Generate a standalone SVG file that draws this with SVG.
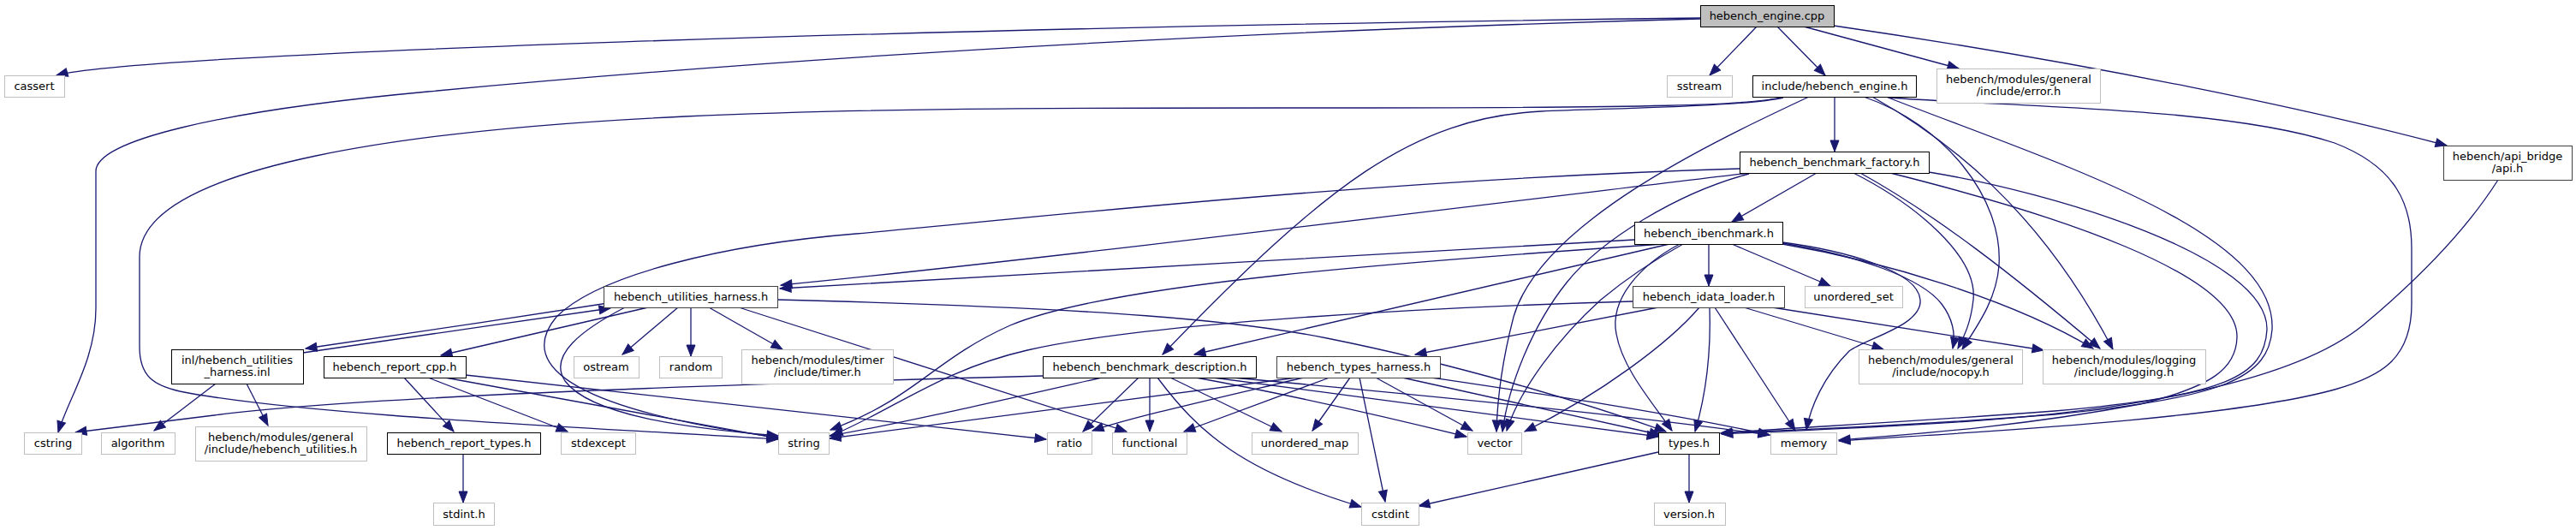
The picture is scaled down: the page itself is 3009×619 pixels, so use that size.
<svg xmlns="http://www.w3.org/2000/svg" width="3009" height="619" viewBox="0 0 3009 619">
<style>
rect{fill:#fff;stroke:#000;stroke-width:1}
.x rect{stroke:#bfbfbf}
.d rect{stroke:#404040}
.m rect{fill:#bfbfbf;stroke:#000}
text{font-family:"DejaVu Sans",sans-serif;font-size:13px;fill:#000;text-anchor:middle}
#edges path{fill:none;stroke:#191970;stroke-width:1.3;marker-end:url(#ah)}
</style>
<defs>
<marker id="ah" markerUnits="userSpaceOnUse" markerWidth="13" markerHeight="10" refX="13" refY="5" orient="auto" overflow="visible"><path d="M0,0L13,5L0,10z" fill="#191970" stroke="#191970" stroke-width="1"/></marker>
</defs>
<rect x="0" y="0" width="3009" height="619" style="fill:#fff;stroke:none"/>
<g id="edges">
<path d="M1986,21 C1100,32 160,62 66,88"/>
<path d="M1986,22 C1500,35 1000,60 500,107 C250,130 112,165 112,200 L112,360 C112,420 80,465 68,505"/>
<path d="M2052,31 L1997,88"/>
<path d="M2076,31 L2132,88"/>
<path d="M2107,31 L2288,80"/>
<path d="M2142,30 C2450,75 2700,128 2858,170"/>
<path d="M2083,113 C2050,123 1950,126 1500,126 C1200,126 1000,127 800,136 C500,150 163,190 163,300 L163,405 C163,440 180,450 210,457 C350,485 700,500 909,513"/>
<path d="M2083,114 C2040,124 1900,126 1800,130 C1650,138 1550,215 1358,414"/>
<path d="M2143,113 L2143,177"/>
<path d="M2113,113 C2000,166 1800,260 1768,370 C1755,420 1749,465 1748,504"/>
<path d="M2177,113 C2270,145 2340,230 2335,310 C2332,350 2310,380 2292,408"/>
<path d="M2187,113 C2270,160 2380,240 2468,408"/>
<path d="M2203,113 C2400,190 2660,270 2654,385 C2650,440 2600,465 2400,484 C2200,500 2080,502 2010,506"/>
<path d="M2207,114 C2350,125 2600,125 2727,167 C2800,195 2817,240 2817,290 L2817,355 C2817,420 2780,440 2727,455 C2600,490 2300,505 2148,515"/>
<path d="M2032,197 C1600,210 1200,255 1000,273 C850,285 700,320 650,370 C600,430 680,480 909,511"/>
<path d="M2043,202 C1700,243 1200,305 912,333"/>
<path d="M2122,202 L2023,259"/>
<path d="M2043,203 C1960,225 1870,280 1830,330 C1790,380 1762,450 1755,504"/>
<path d="M2165,202 C2240,240 2310,300 2305,350 C2302,378 2294,393 2287,407"/>
<path d="M2173,202 C2260,250 2350,320 2453,407"/>
<path d="M2253,201 C2400,225 2650,300 2648,385 C2645,440 2600,462 2400,480 C2200,495 2080,500 2010,506"/>
<path d="M2208,202 C2400,250 2615,320 2613,394 C2612,430 2585,451 2500,472 C2350,500 2220,508 2148,514"/>
<path d="M1909,280 C1600,298 1200,320 911,337"/>
<path d="M1950,285 L1395,414"/>
<path d="M1943,285 C1650,305 1300,330 1180,380 C1090,420 1070,465 970,502"/>
<path d="M1996,285 L1996,334"/>
<path d="M2023,285 L2138,334"/>
<path d="M1966,285 C1930,305 1900,325 1870,350 C1820,395 1775,455 1760,503"/>
<path d="M1962,285 C1915,310 1880,350 1888,390 C1895,430 1930,470 1953,503"/>
<path d="M2082,283 C2150,292 2240,315 2243,350 C2246,380 2180,395 2160,410 C2130,440 2115,475 2110,502"/>
<path d="M2082,284 C2170,298 2245,325 2268,355 C2283,375 2284,392 2281,407"/>
<path d="M2082,285 C2200,305 2350,350 2445,407"/>
<path d="M1937,359 L1653,414"/>
<path d="M1907,352 C1700,358 1350,375 1200,409 C1100,432 1050,475 971,509"/>
<path d="M1985,359 C1950,400 1870,460 1781,504"/>
<path d="M1997,359 C1999,420 1990,470 1980,504"/>
<path d="M2003,359 L2097,503"/>
<path d="M2037,359 L2200,408"/>
<path d="M2070,359 L2387,409"/>
<path d="M710,354 C600,371 450,394 357,407"/>
<path d="M354,412 C450,398 600,376 713,360"/>
<path d="M757,359 L515,415"/>
<path d="M792,359 L727,414"/>
<path d="M807,359 L807,416"/>
<path d="M828,359 L914,408"/>
<path d="M730,359 C680,385 640,415 660,445 C690,485 800,500 909,509"/>
<path d="M908,350 C1300,360 1450,375 1550,395 C1700,425 1850,470 1946,504"/>
<path d="M863,359 L1316,504"/>
<path d="M252,448 L180,503"/>
<path d="M288,448 L313,497"/>
<path d="M472,441 L530,504"/>
<path d="M500,441 L663,504"/>
<path d="M520,441 L909,512"/>
<path d="M544,438 L1222,513"/>
<path d="M541,530 L541,587"/>
<path d="M1218,439 C800,450 400,465 250,485 C180,494 125,500 88,505"/>
<path d="M1287,441 C1150,472 1050,495 969,509"/>
<path d="M1330,441 L1265,504"/>
<path d="M1343,441 L1343,504"/>
<path d="M1367,441 L1497,504"/>
<path d="M1352,441 C1400,505 1450,550 1590,592"/>
<path d="M1397,441 C1500,460 1600,482 1713,510"/>
<path d="M1417,441 C1600,465 1800,492 1937,510"/>
<path d="M1440,441 C1700,465 1900,485 2067,508"/>
<path d="M1523,441 C1400,470 1320,488 1276,503"/>
<path d="M1553,441 L1383,504"/>
<path d="M1515,441 C1300,470 1100,495 969,512"/>
<path d="M1577,441 L1533,503"/>
<path d="M1588,441 L1618,586"/>
<path d="M1607,441 L1720,503"/>
<path d="M1638,441 L1940,508"/>
<path d="M1672,441 C1800,460 1950,482 2067,508"/>
<path d="M1937,528 L1657,591"/>
<path d="M1973,530 L1973,587"/>
<path d="M2918,210 C2880,270 2820,330 2760,380 C2680,445 2500,478 2300,492 C2150,502 2060,504 2011,507"/>
</g>
<g id="n_main" class="m"><rect x="1986.5" y="6.5" width="156" height="25"/><text x="2064" y="23">hebench_engine.cpp</text></g>
<g id="n_cassert" class="x"><rect x="5.5" y="88.5" width="70" height="25"/><text x="40" y="105">cassert</text></g>
<g id="n_sstream" class="x"><rect x="1947.5" y="88.5" width="76" height="25"/><text x="1985" y="105">sstream</text></g>
<g id="n_engh"><rect x="2047.5" y="88.5" width="191" height="25"/><text x="2143" y="105">include/hebench_engine.h</text></g>
<g id="n_error" class="x"><rect x="2262.5" y="80.5" width="191" height="40"/><text x="2358" y="97">hebench/modules/general</text><text x="2358" y="111">/include/error.h</text></g>
<g id="n_api" class="d"><rect x="2854.5" y="170.5" width="150" height="40"/><text x="2929" y="187">hebench/api_bridge</text><text x="2929" y="201">/api.h</text></g>
<g id="n_factory"><rect x="2032.5" y="177.5" width="221" height="25"/><text x="2143" y="194">hebench_benchmark_factory.h</text></g>
<g id="n_ibench"><rect x="1909.5" y="259.5" width="173" height="26"/><text x="1996" y="277">hebench_ibenchmark.h</text></g>
<g id="n_utilh" class="d"><rect x="705.5" y="334.5" width="203" height="25"/><text x="807" y="351">hebench_utilities_harness.h</text></g>
<g id="n_idata" class="d"><rect x="1907.5" y="334.5" width="177" height="25"/><text x="1996" y="351">hebench_idata_loader.h</text></g>
<g id="n_uset" class="x"><rect x="2108.5" y="334.5" width="114" height="25"/><text x="2165" y="351">unordered_set</text></g>
<g id="n_inl"><rect x="200.5" y="408.5" width="154" height="40"/><text x="277" y="425">inl/hebench_utilities</text><text x="277" y="439">_harness.inl</text></g>
<g id="n_rcpp"><rect x="378.5" y="416.5" width="166" height="25"/><text x="461" y="433">hebench_report_cpp.h</text></g>
<g id="n_ostream" class="x"><rect x="670.5" y="416.5" width="76" height="25"/><text x="708" y="433">ostream</text></g>
<g id="n_random" class="x"><rect x="770.5" y="416.5" width="73" height="25"/><text x="807" y="433">random</text></g>
<g id="n_timer" class="x"><rect x="866.5" y="408.5" width="177" height="40"/><text x="955" y="425">hebench/modules/timer</text><text x="955" y="439">/include/timer.h</text></g>
<g id="n_desc"><rect x="1218.5" y="416.5" width="249" height="25"/><text x="1343" y="433">hebench_benchmark_description.h</text></g>
<g id="n_th" class="d"><rect x="1491.5" y="416.5" width="191" height="25"/><text x="1587" y="433">hebench_types_harness.h</text></g>
<g id="n_nocopy" class="x"><rect x="2171.5" y="408.5" width="191" height="40"/><text x="2267" y="425">hebench/modules/general</text><text x="2267" y="439">/include/nocopy.h</text></g>
<g id="n_logging" class="x"><rect x="2386.5" y="408.5" width="190" height="40"/><text x="2481" y="425">hebench/modules/logging</text><text x="2481" y="439">/include/logging.h</text></g>
<g id="n_cstring" class="x"><rect x="28.5" y="505.5" width="67" height="25"/><text x="62" y="522">cstring</text></g>
<g id="n_algorithm" class="x"><rect x="118.5" y="505.5" width="86" height="25"/><text x="161" y="522">algorithm</text></g>
<g id="n_hutil" class="x"><rect x="228.5" y="498.5" width="200" height="40"/><text x="328" y="515">hebench/modules/general</text><text x="328" y="529">/include/hebench_utilities.h</text></g>
<g id="n_rtypes"><rect x="452.5" y="505.5" width="179" height="25"/><text x="542" y="522">hebench_report_types.h</text></g>
<g id="n_stdexcept" class="x"><rect x="655.5" y="505.5" width="87" height="25"/><text x="699" y="522">stdexcept</text></g>
<g id="n_string" class="x"><rect x="909.5" y="505.5" width="59" height="25"/><text x="939" y="522">string</text></g>
<g id="n_ratio" class="x"><rect x="1223.5" y="505.5" width="52" height="25"/><text x="1249" y="522">ratio</text></g>
<g id="n_functional" class="x"><rect x="1299.5" y="505.5" width="87" height="25"/><text x="1343" y="522">functional</text></g>
<g id="n_umap" class="x"><rect x="1462.5" y="505.5" width="124" height="25"/><text x="1524" y="522">unordered_map</text></g>
<g id="n_vector" class="x"><rect x="1714.5" y="505.5" width="63" height="25"/><text x="1746" y="522">vector</text></g>
<g id="n_types"><rect x="1937.5" y="505.5" width="71" height="25"/><text x="1973" y="522">types.h</text></g>
<g id="n_memory" class="x"><rect x="2068.5" y="505.5" width="77" height="25"/><text x="2107" y="522">memory</text></g>
<g id="n_stdint" class="x"><rect x="506.5" y="587.5" width="71" height="26"/><text x="542" y="605">stdint.h</text></g>
<g id="n_cstdint" class="x"><rect x="1590.5" y="587.5" width="67" height="26"/><text x="1624" y="605">cstdint</text></g>
<g id="n_version" class="x"><rect x="1932.5" y="587.5" width="83" height="26"/><text x="1973" y="605">version.h</text></g>
</svg>
